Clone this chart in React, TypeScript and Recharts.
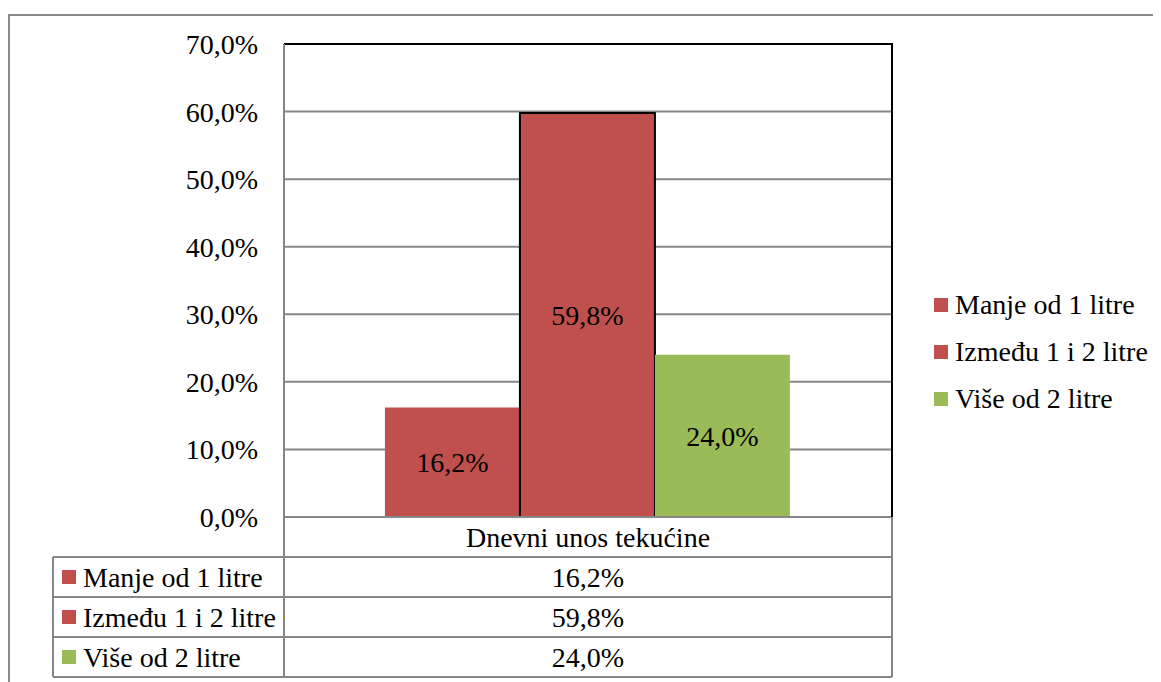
import { Bar, BarChart, CartesianGrid, LabelList, ReferenceLine, XAxis, YAxis } from "recharts";

const categories = ["Dnevni unos tekućine"];
const seriesNames = ["Manje od 1 litre", "Između 1 i 2 litre", "Više od 2 litre"];
const seriesValues = [16.2, 59.8, 24.0];
const yTicks = [0, 10, 20, 30, 40, 50, 60, 70];

const COLORS = ["#c0504d", "#c0504d", "#9bbb59"];
const STROKES = ["none", "#000000", "none"];
const FONT = "Liberation Serif, DejaVu Serif, serif";
const FONT_SIZE = 28;
const GRID = "#868686";

const W = 1153;
const H = 674;
const MARGIN = { top: 36, right: 269, bottom: 0, left: 0 };
const Y_AXIS_W = 276;
const X_AXIS_H = 165;
const PLOT_LEFT = MARGIN.left + Y_AXIS_W;
const PLOT_RIGHT = W - MARGIN.right;
const TABLE_LEFT = 45;
const ROW_H = 40;

const rows = categories.map((name) => {
  const row: Record<string, string | number> = { name };
  seriesValues.forEach((v, i) => {
    row[`s${i}`] = v;
  });
  return row;
});

const fmt = (v: number) => v.toFixed(1).replace(".", ",") + "%";

// data table drawn under the plot, hanging off the category axis
function TableTick(props: any) {
  const { y, payload } = props;
  const mid = (PLOT_LEFT + PLOT_RIGHT) / 2;
  const y0 = y;
  const n = seriesNames.length;
  const bottom = y0 + ROW_H * (n + 1);
  return (
    <g>
      {/* right edge of the plot frame */}
      <line x1={PLOT_RIGHT} y1={MARGIN.top - 1} x2={PLOT_RIGHT} y2={y0} stroke="#000" strokeWidth={2} />
      <line x1={PLOT_LEFT} y1={y0} x2={PLOT_LEFT} y2={bottom} stroke={GRID} strokeWidth={2} />
      <line x1={PLOT_RIGHT} y1={y0} x2={PLOT_RIGHT} y2={bottom} stroke={GRID} strokeWidth={2} />
      <line x1={TABLE_LEFT} y1={y0 + ROW_H} x2={TABLE_LEFT} y2={bottom} stroke={GRID} strokeWidth={2} />
      {seriesNames.map((_, i) => (
        <line
          key={`h${i}`}
          x1={TABLE_LEFT}
          y1={y0 + ROW_H * (i + 1)}
          x2={PLOT_RIGHT}
          y2={y0 + ROW_H * (i + 1)}
          stroke={GRID}
          strokeWidth={2}
        />
      ))}
      <line x1={TABLE_LEFT} y1={bottom} x2={PLOT_RIGHT} y2={bottom} stroke={GRID} strokeWidth={2} />
      <text x={mid} y={y0 + ROW_H / 2} textAnchor="middle" dominantBaseline="central" fontFamily={FONT} fontSize={FONT_SIZE} fill="#000">
        {payload.value}
      </text>
      {seriesNames.map((s, i) => {
        const cy = y0 + ROW_H * (i + 1) + ROW_H / 2;
        return (
          <g key={s}>
            <rect x={TABLE_LEFT + 9} y={cy - 7} width={14} height={14} fill={COLORS[i]} />
            <text x={TABLE_LEFT + 30} y={cy} dominantBaseline="central" fontFamily={FONT} fontSize={FONT_SIZE} fill="#000">
              {s}
            </text>
            <text x={mid} y={cy} textAnchor="middle" dominantBaseline="central" fontFamily={FONT} fontSize={FONT_SIZE} fill="#000">
              {fmt(seriesValues[i])}
            </text>
          </g>
        );
      })}
    </g>
  );
}

export default function App() {
  return (
    <div style={{ position: "relative", width: W, height: H, overflow: "hidden", background: "#fff" }}>
      <div
        style={{
          position: "absolute",
          left: 0,
          top: 6,
          width: W + 40,
          height: H + 40,
          border: "2px solid #8a8a8a",
        }}
      />
      <BarChart
        width={W}
        height={H}
        data={rows}
        margin={MARGIN}
        barCategoryGap="16.6%"
        barGap={0}
        style={{ position: "absolute", left: 0, top: 0 }}
      >
        <CartesianGrid vertical={false} stroke={GRID} strokeWidth={2} />
        <XAxis
          dataKey="name"
          height={X_AXIS_H}
          tickLine={false}
          tickSize={0}
          tickMargin={0}
          axisLine={{ stroke: GRID, strokeWidth: 2 }}
          tick={<TableTick />}
          interval={0}
        />
        <YAxis
          width={Y_AXIS_W}
          domain={[0, 70]}
          ticks={yTicks}
          tickFormatter={fmt}
          tickLine={false}
          tickSize={0}
          tickMargin={26}
          axisLine={{ stroke: GRID, strokeWidth: 2 }}
          tick={{ fill: "#000", fontFamily: FONT, fontSize: FONT_SIZE }}
        />
        <ReferenceLine y={70} stroke="#000" strokeWidth={2} />
        {seriesNames.map((s, i) => (
          <Bar
            key={s}
            dataKey={`s${i}`}
            name={s}
            fill={COLORS[i]}
            stroke={STROKES[i]}
            strokeWidth={2}
            isAnimationActive={false}
          >
            <LabelList
              dataKey={`s${i}`}
              position="center"
              formatter={(v: any) => fmt(Number(v))}
              fill="#000"
              fontFamily={FONT}
              fontSize={FONT_SIZE}
            />
          </Bar>
        ))}
      </BarChart>
      {seriesNames.map((s, i) => (
        <div
          key={s}
          style={{
            position: "absolute",
            left: 926,
            top: 297 + i * 47 - 16,
            height: 32,
            display: "flex",
            alignItems: "center",
            fontFamily: FONT,
            fontSize: FONT_SIZE,
            color: "#000",
            whiteSpace: "nowrap",
          }}
        >
          <span style={{ display: "inline-block", width: 14, height: 14, background: COLORS[i], marginRight: 7 }} />
          {s}
        </div>
      ))}
    </div>
  );
}
